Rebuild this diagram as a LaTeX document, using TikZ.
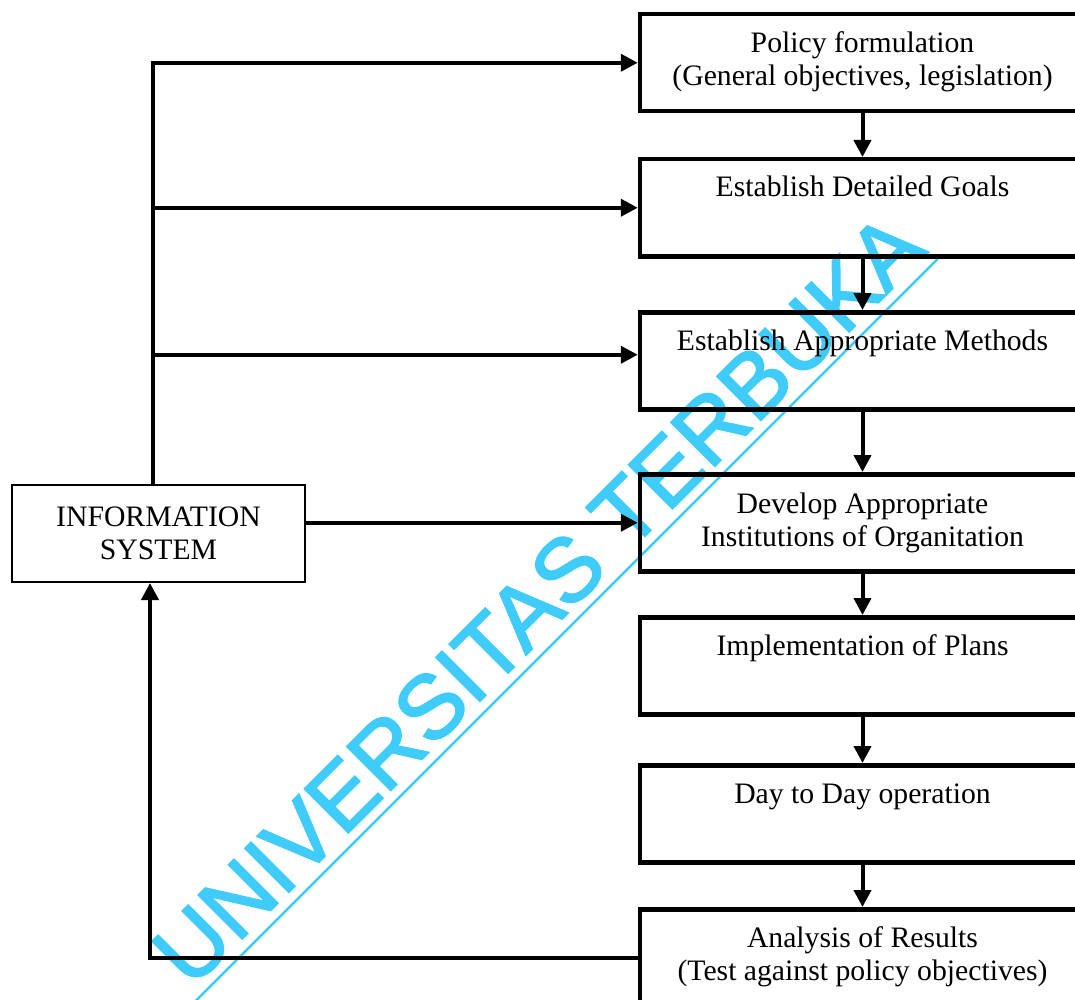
\documentclass[tikz,border=0pt]{standalone}
\usepackage{fontspec}
\setmainfont{Liberation Serif}
\newfontfamily\wmfont[FakeBold=2]{Liberation Sans}
\usetikzlibrary{positioning, arrows.meta}
\definecolor{wmcyan}{RGB}{64,204,250}

\begin{document}
\begin{tikzpicture}[x=1pt, y=1pt,
  stage/.style={draw, line width=4.5pt, minimum width=445pt, minimum height=97pt, anchor=north, inner sep=0pt},
  caption/.style={anchor=base, align=center, inner sep=0pt, font=\fontsize{29.7}{33}\selectfont},
  infobox/.style={draw, line width=2pt, minimum width=293pt, minimum height=97pt, align=center, inner sep=0pt, font=\fontsize{29.7}{33}\selectfont},
  flow/.style={line width=4pt, -{Triangle[length=17pt, width=17pt]}},
  wmark/.style={text=wmcyan, font=\wmfont\fontsize{90}{90}\selectfont, inner sep=0pt}]
\useasboundingbox (0,0) rectangle (1075,-1000);
\clip (0,0) rectangle (1075,-1000);
\fill[white] (0,0) rectangle (1075,-1000);

% watermark
\begin{scope}[shift={(560,-621)}, rotate=45, transform shape]
\node[wmark, anchor=base] (wm) at (0,0) {UNIVERSITAS TERBUKA};
\draw[wmcyan, line width=2.5pt] (-600,-11) -- (526,-11);
\end{scope}

% stages
\node[stage] (policy) at (862.5,-12) {};
\node[stage] (goals) at (862.5,-157) {};
\node[stage] (methods) at (862.5,-310) {};
\node[stage] (develop) at (862.5,-472) {};
\node[stage] (plans) at (862.5,-615) {};
\node[stage] (daily) at (862.5,-763) {};
\node[stage] (results) at (862.5,-907) {};

% captions (base = last line)
\node[caption] (policytxt) at ([yshift=-74pt]policy.north) {Policy formulation\\(General objectives, legislation)};
\node[caption] (goalstxt) at ([yshift=-40pt]goals.north) {Establish Detailed Goals};
\node[caption] (methodstxt) at ([yshift=-40pt]methods.north) {Establish Appropriate Methods};
\node[caption] (developtxt) at ([yshift=-74pt]develop.north) {Develop Appropriate\\Institutions of Organitation};
\node[caption] (planstxt) at ([yshift=-40pt]plans.north) {Implementation of Plans};
\node[caption] (dailytxt) at ([yshift=-40pt]daily.north) {Day to Day operation};
\node[caption] (resultstxt) at ([yshift=-73pt]results.north) {Analysis of Results\\(Test against policy objectives)};

\node[infobox] (info) at (158.5,-533.5) {INFORMATION\\SYSTEM};

% flow down the stages
\foreach \a/\b in {policy/goals, goals/methods, methods/develop, develop/plans, plans/daily, daily/results}
  \draw[flow] (\a.south) -- (\b.north);

% information system feeds
\coordinate (spine) at (153,-62);
\coordinate (m) at ([yshift=6pt]methods.west);
\draw[flow] (info.north -| spine) |- (policy.west);
\draw[flow] (goals.west -| spine) -- (goals.west);
\draw[flow] (m -| spine) -- (m);
\draw[flow] (info.east |- develop.west) -- (develop.west);

% feedback
\coordinate (fb) at (150,-955);
\draw[flow] (results.west) -| (info.south -| fb);
\end{tikzpicture}
\end{document}
